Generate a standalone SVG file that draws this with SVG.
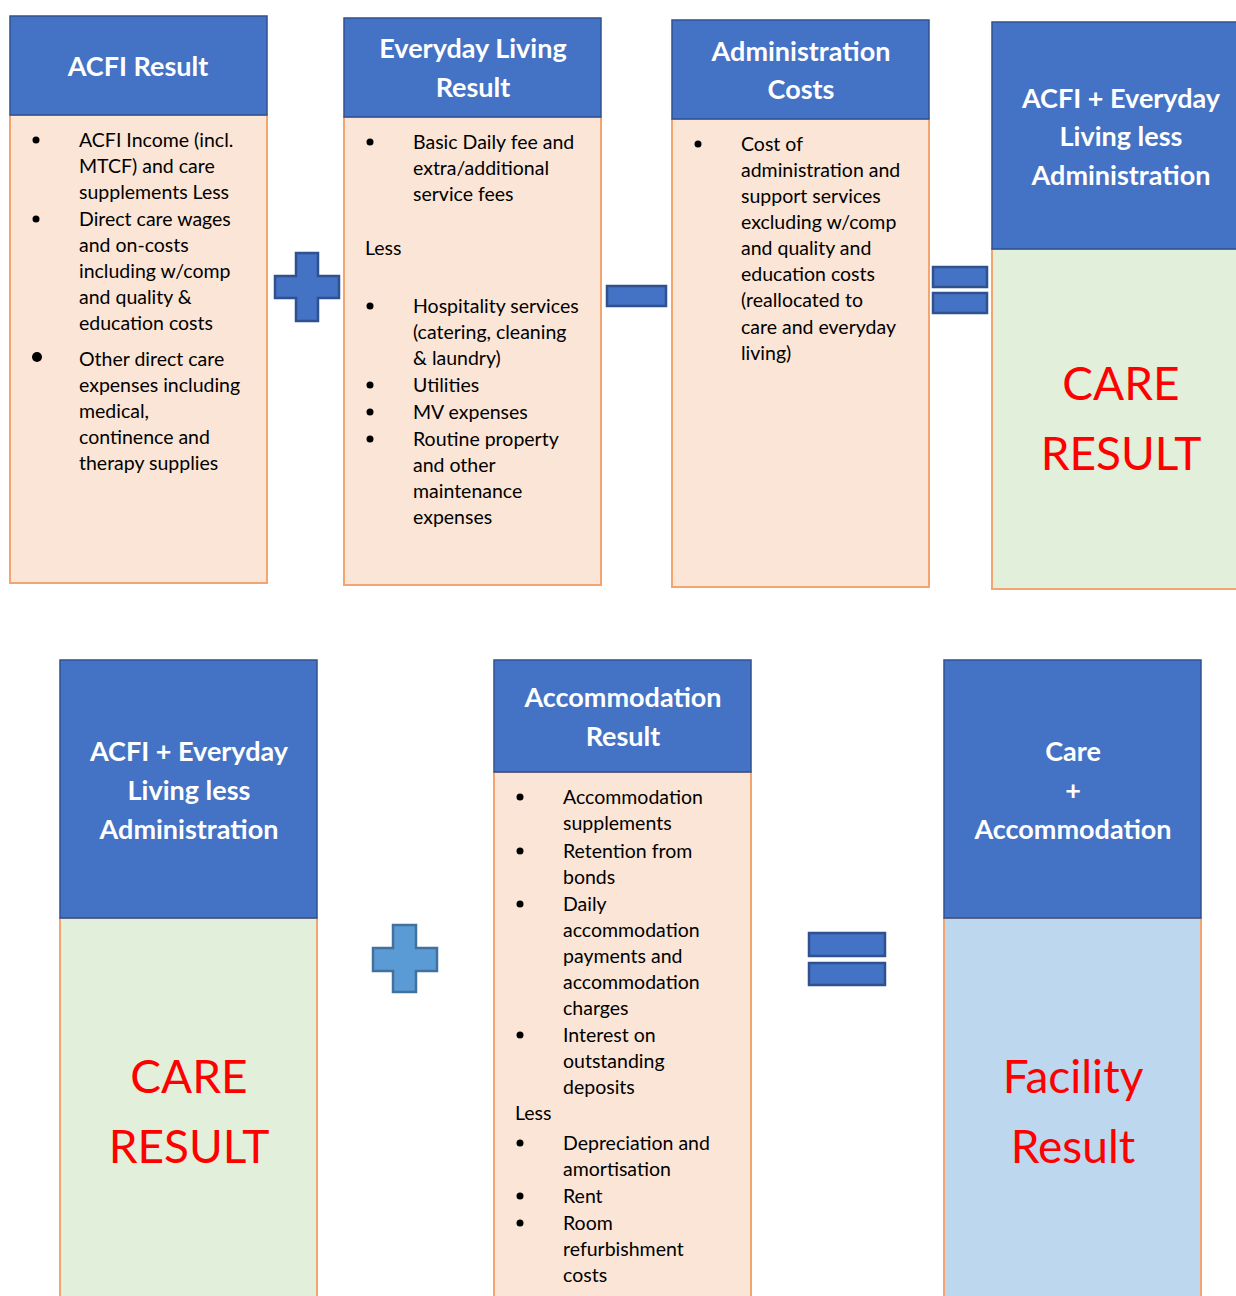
<svg xmlns="http://www.w3.org/2000/svg" width="1236" height="1296" viewBox="0 0 1236 1296">
<style>
.hd{fill:#4472C4;stroke:#2F528F;stroke-width:1.5}
.bd{fill:#FBE5D6;stroke:#F4A46E;stroke-width:2}
.gr{fill:#E2EFDA;stroke:#F4A46E;stroke-width:2}
.bl{fill:#BDD7EE;stroke:#F4A46E;stroke-width:2}
.ht{font-family:Lato,"Liberation Sans",sans-serif;font-weight:bold;font-size:27px;fill:#fff;text-anchor:middle}
.tx{font-family:Lato,"Liberation Sans",sans-serif;font-size:19.5px;fill:#000}
.rd{font-family:Lato,"Liberation Sans",sans-serif;font-size:46px;fill:#FF0000;text-anchor:middle}
.op{fill:#4472C4;stroke:#2F528F;stroke-width:2.5}
.op2{fill:#5B9BD5;stroke:#41719C;stroke-width:2.5}
</style>
<rect width="1236" height="1296" fill="#fff"/>
<g id="acfi">
<rect class="bd" x="10" y="115" width="257" height="468"/>
<rect class="hd" x="10" y="16" width="257" height="99"/>
<text class="ht" x="138" y="76">ACFI Result</text>
<g fill="#000"><circle cx="36" cy="140" r="3.5"/><circle cx="36" cy="219" r="3.5"/><circle cx="37" cy="357" r="5"/></g>
<text class="tx"><tspan x="79" y="147">ACFI Income (incl.</tspan><tspan x="79" y="173">MTCF) and care</tspan><tspan x="79" y="199">supplements Less</tspan><tspan x="79" y="226">Direct care wages</tspan><tspan x="79" y="252">and on-costs</tspan><tspan x="79" y="278">including w/comp</tspan><tspan x="79" y="304">and quality &amp;</tspan><tspan x="79" y="330">education costs</tspan><tspan x="79" y="366">Other direct care</tspan><tspan x="79" y="392">expenses including</tspan><tspan x="79" y="418">medical,</tspan><tspan x="79" y="444">continence and</tspan><tspan x="79" y="470">therapy supplies</tspan></text>
</g>
<g id="everyday">
<rect class="bd" x="344" y="117" width="257" height="468"/>
<rect class="hd" x="344" y="18" width="257" height="99"/>
<text class="ht"><tspan x="473" y="58">Everyday Living</tspan><tspan x="473" y="97">Result</tspan></text>
<g fill="#000"><circle cx="370" cy="142" r="3.5"/><circle cx="370" cy="306" r="3.5"/><circle cx="370" cy="385" r="3.5"/><circle cx="370" cy="412" r="3.5"/><circle cx="370" cy="439" r="3.5"/></g>
<text class="tx"><tspan x="413" y="149">Basic Daily fee and</tspan><tspan x="413" y="175">extra/additional</tspan><tspan x="413" y="201">service fees</tspan><tspan x="365" y="255">Less</tspan><tspan x="413" y="313">Hospitality services</tspan><tspan x="413" y="339">(catering, cleaning</tspan><tspan x="413" y="365">&amp; laundry)</tspan><tspan x="413" y="392">Utilities</tspan><tspan x="413" y="419">MV expenses</tspan><tspan x="413" y="446">Routine property</tspan><tspan x="413" y="472">and other</tspan><tspan x="413" y="498">maintenance</tspan><tspan x="413" y="524">expenses</tspan></text>
</g>
<g id="admin">
<rect class="bd" x="672" y="119" width="257" height="468"/>
<rect class="hd" x="672" y="20" width="257" height="99"/>
<text class="ht"><tspan x="801" y="61">Administration</tspan><tspan x="801" y="99">Costs</tspan></text>
<circle cx="698" cy="144" r="3.5" fill="#000"/>
<text class="tx"><tspan x="741" y="151">Cost of</tspan><tspan x="741" y="177">administration and</tspan><tspan x="741" y="203">support services</tspan><tspan x="741" y="229">excluding w/comp</tspan><tspan x="741" y="255">and quality and</tspan><tspan x="741" y="281">education costs</tspan><tspan x="741" y="307">(reallocated to</tspan><tspan x="741" y="334">care and everyday</tspan><tspan x="741" y="360">living)</tspan></text>
</g>
<g id="care-top">
<rect class="gr" x="992" y="249" width="250" height="340"/>
<rect class="hd" x="992" y="22" width="250" height="227"/>
<text class="ht"><tspan x="1121" y="108">ACFI + Everyday</tspan><tspan x="1121" y="146">Living less</tspan><tspan x="1121" y="185">Administration</tspan></text>
<text class="rd"><tspan x="1121" y="400">CARE</tspan><tspan x="1121" y="470">RESULT</tspan></text>
</g>
<g id="care-bottom">
<rect class="gr" x="60" y="918" width="257" height="390"/>
<rect class="hd" x="60" y="660" width="257" height="258"/>
<text class="ht"><tspan x="189" y="761">ACFI + Everyday</tspan><tspan x="189" y="800">Living less</tspan><tspan x="189" y="839">Administration</tspan></text>
<text class="rd"><tspan x="189" y="1093">CARE</tspan><tspan x="189" y="1163">RESULT</tspan></text>
</g>
<g id="accommodation">
<rect class="bd" x="494" y="772" width="257" height="536"/>
<rect class="hd" x="494" y="660" width="257" height="112"/>
<text class="ht"><tspan x="623" y="707">Accommodation</tspan><tspan x="623" y="746">Result</tspan></text>
<g fill="#000"><circle cx="520" cy="797" r="3.5"/><circle cx="520" cy="851" r="3.5"/><circle cx="520" cy="904" r="3.5"/><circle cx="520" cy="1035" r="3.5"/><circle cx="520" cy="1143" r="3.5"/><circle cx="520" cy="1196" r="3.5"/><circle cx="520" cy="1223" r="3.5"/></g>
<text class="tx"><tspan x="563" y="804">Accommodation</tspan><tspan x="563" y="830">supplements</tspan><tspan x="563" y="858">Retention from</tspan><tspan x="563" y="884">bonds</tspan><tspan x="563" y="911">Daily</tspan><tspan x="563" y="937">accommodation</tspan><tspan x="563" y="963">payments and</tspan><tspan x="563" y="989">accommodation</tspan><tspan x="563" y="1015">charges</tspan><tspan x="563" y="1042">Interest on</tspan><tspan x="563" y="1068">outstanding</tspan><tspan x="563" y="1094">deposits</tspan><tspan x="515" y="1120">Less</tspan><tspan x="563" y="1150">Depreciation and</tspan><tspan x="563" y="1176">amortisation</tspan><tspan x="563" y="1203">Rent</tspan><tspan x="563" y="1230">Room</tspan><tspan x="563" y="1256">refurbishment</tspan><tspan x="563" y="1282">costs</tspan></text>
</g>
<g id="facility">
<rect class="bl" x="944" y="918" width="257" height="390"/>
<rect class="hd" x="944" y="660" width="257" height="258"/>
<text class="ht"><tspan x="1073" y="761">Care</tspan><tspan x="1073" y="800">+</tspan><tspan x="1073" y="839">Accommodation</tspan></text>
<text class="rd"><tspan x="1073" y="1093">Facility</tspan><tspan x="1073" y="1163">Result</tspan></text>
</g>
<g id="operators">
<path class="op" d="M296,253H318V276H339V298H318V321H296V298H275V276H296Z"/>
<rect class="op" x="607" y="286" width="59" height="20"/>
<rect class="op" x="933" y="267" width="54" height="20"/>
<rect class="op" x="933" y="293" width="54" height="20"/>
<path class="op2" d="M393,925H416V948H437V971H416V992H393V971H373V948H393Z"/>
<rect class="op" x="809" y="933" width="76" height="23"/>
<rect class="op" x="809" y="963" width="76" height="22"/>
</g>
</svg>
